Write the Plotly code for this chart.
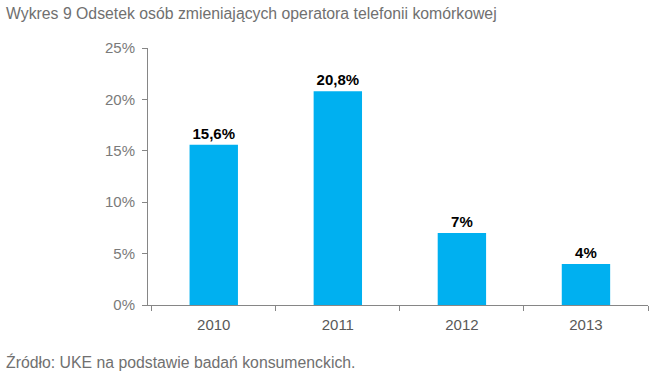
import plotly.graph_objects as go

years = ["2010", "2011", "2012", "2013"]
values = [15.6, 20.8, 7, 4]
labels = ["15,6%", "20,8%", "7%", "4%"]
y_ticks = [0, 5, 10, 15, 20, 25]
y_tick_labels = ["0%", "5%", "10%", "15%", "20%", "25%"]

fig = go.Figure(go.Bar(
    x=years, y=values, text=labels, textposition="outside",
    textfont=dict(family="Liberation Sans", size=15, color="#000000"),
    marker=dict(color="#00B0F0", line=dict(width=0)),
    width=0.39, cliponaxis=False,
))
fig.update_traces(texttemplate="<b>%{text}</b>")

fig.update_layout(
    width=655, height=377,
    margin=dict(l=148, r=7, t=48, b=72),
    paper_bgcolor="white", plot_bgcolor="white",
    showlegend=False,
    font=dict(family="Liberation Sans", color="#595959", size=15),
    annotations=[
        dict(text="Wykres 9 Odsetek osób zmieniających operatora telefonii komórkowej",
             xref="paper", yref="paper", x=-144/500, y=1 + 35/257, xanchor="left", yanchor="middle",
             showarrow=False, font=dict(size=15.8, color="#707070")),
        dict(text="Źródło: UKE na podstawie badań konsumenckich.",
             xref="paper", yref="paper", x=-144/500, y=-57/257, xanchor="left", yanchor="middle",
             showarrow=False, font=dict(size=15.8, color="#707070")),
    ],
)
fig.update_yaxes(
    range=[0, 25], tickvals=y_ticks, ticktext=y_tick_labels,
    showgrid=False, zeroline=False, showline=True, linecolor="#868686", linewidth=1,
    ticks="outside", ticklen=5, tickcolor="#868686",
    tickfont=dict(size=15, color="#7a7a7a"), ticklabelstandoff=4,
)
fig.update_xaxes(
    range=[-0.53, 3.5],
    showgrid=False, showline=True, linecolor="#868686", linewidth=1,
    ticks="outside", ticklen=5, tickcolor="#868686", tickson="boundaries",
    tickfont=dict(size=15, color="#595959"), ticklabelstandoff=6,
)

fig.write_html("out.html", config={"displayModeBar": False},
               post_script="document.body.style.margin='0';document.body.style.overflow='hidden';")
